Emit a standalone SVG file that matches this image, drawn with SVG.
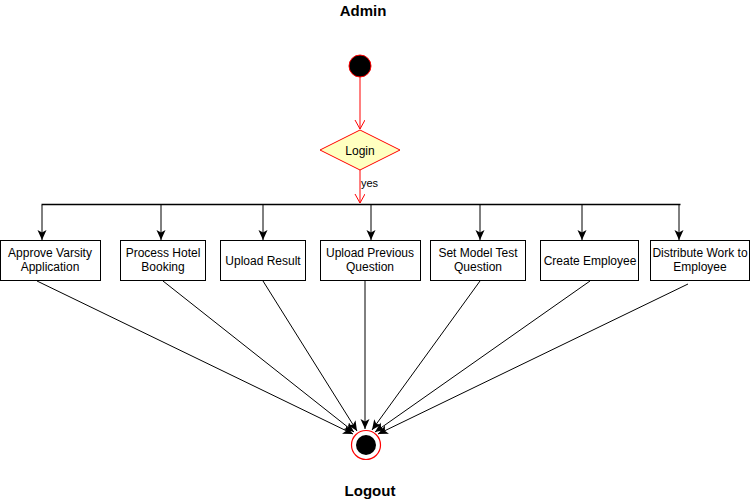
<svg xmlns="http://www.w3.org/2000/svg" width="751" height="501" viewBox="0 0 751 501">
<style>
text{font-family:"Liberation Sans",Arial,sans-serif;fill:#000}
.t{font-size:12px;text-anchor:middle}
.title{font-size:15px;font-weight:bold;text-anchor:middle}
.box{fill:#fff;stroke:#000;stroke-width:1}
.e{stroke:#000;stroke-width:1;fill:none;marker-end:url(#blk)}
.r{stroke:#ff0000;stroke-width:1;fill:none;marker-end:url(#opn)}
</style>
<defs>
<marker id="blk" markerWidth="12" markerHeight="12" refX="10" refY="4.5" orient="auto" markerUnits="userSpaceOnUse">
<path d="M0,0 L10,4.5 L0,9 L2.5,4.5 Z" fill="#000"/>
</marker>
<marker id="opn" markerWidth="12" markerHeight="12" refX="9" refY="5" orient="auto" markerUnits="userSpaceOnUse">
<path d="M0,0 L9,5 L0,10" fill="none" stroke="#ff0000" stroke-width="1"/>
</marker>
</defs>
<rect width="751" height="501" fill="#fff"/>
<text class="title" x="363" y="16">Admin</text>
<text class="title" x="370" y="496">Logout</text>
<g id="connectors">
<line class="r" x1="360" y1="77" x2="360" y2="129"/>
<line class="r" x1="360" y1="170" x2="360" y2="203"/>
<text x="361" y="187" style="font-size:11px">yes</text>
<line x1="41.5" y1="204.5" x2="680.5" y2="204.5" stroke="#000" stroke-width="1.3"/>
<line class="e" x1="42" y1="205" x2="42" y2="240"/>
<line class="e" x1="161" y1="205" x2="161" y2="240"/>
<line class="e" x1="263" y1="205" x2="263" y2="240"/>
<line class="e" x1="371" y1="205" x2="371" y2="240"/>
<line class="e" x1="480" y1="205" x2="480" y2="240"/>
<line class="e" x1="582" y1="205" x2="582" y2="240"/>
<line class="e" x1="679" y1="205" x2="679" y2="240"/>
<line class="e" x1="37" y1="281" x2="353" y2="434"/>
<line class="e" x1="163" y1="281" x2="354" y2="432"/>
<line class="e" x1="263" y1="281" x2="357" y2="431"/>
<line class="e" x1="365" y1="281" x2="365" y2="429"/>
<line class="e" x1="480" y1="281" x2="372" y2="430"/>
<line class="e" x1="590" y1="281" x2="375" y2="432"/>
<line class="e" x1="688" y1="284" x2="378" y2="434"/>
</g>
<g id="start"><circle cx="360" cy="66" r="11" fill="#000" stroke="#ff0000" stroke-width="1"/></g>
<g id="login">
<polygon points="360,130 400,150 360,170 320,150" fill="#ffffc0" stroke="#ff0000" stroke-width="1"/>
<text class="t" x="360" y="155">Login</text>
</g>
<g id="n1"><rect class="box" x="0.5" y="240.5" width="100" height="40"/><text class="t" x="50" y="257">Approve Varsity</text><text class="t" x="50" y="271">Application</text></g>
<g id="n2"><rect class="box" x="120.5" y="240.5" width="85" height="40"/><text class="t" x="163" y="257">Process Hotel</text><text class="t" x="163" y="271">Booking</text></g>
<g id="n3"><rect class="box" x="220.5" y="240.5" width="85" height="40"/><text class="t" x="263" y="265">Upload Result</text></g>
<g id="n4"><rect class="box" x="320.5" y="240.5" width="100" height="40"/><text class="t" x="370" y="257">Upload Previous</text><text class="t" x="370" y="271">Question</text></g>
<g id="n5"><rect class="box" x="430.5" y="240.5" width="95" height="40"/><text class="t" x="478" y="257">Set Model Test</text><text class="t" x="478" y="271">Question</text></g>
<g id="n6"><rect class="box" x="540.5" y="240.5" width="98" height="40"/><text class="t" x="590" y="265">Create Employee</text></g>
<g id="n7"><rect class="box" x="650.5" y="240.5" width="99" height="40"/><text class="t" x="700" y="257">Distribute Work to</text><text class="t" x="700" y="271">Employee</text></g>
<g id="end">
<circle cx="366" cy="445" r="14.5" fill="#fff" stroke="#ff0000" stroke-width="1.2"/>
<circle cx="366" cy="445" r="10" fill="#000"/>
</g>
</svg>
